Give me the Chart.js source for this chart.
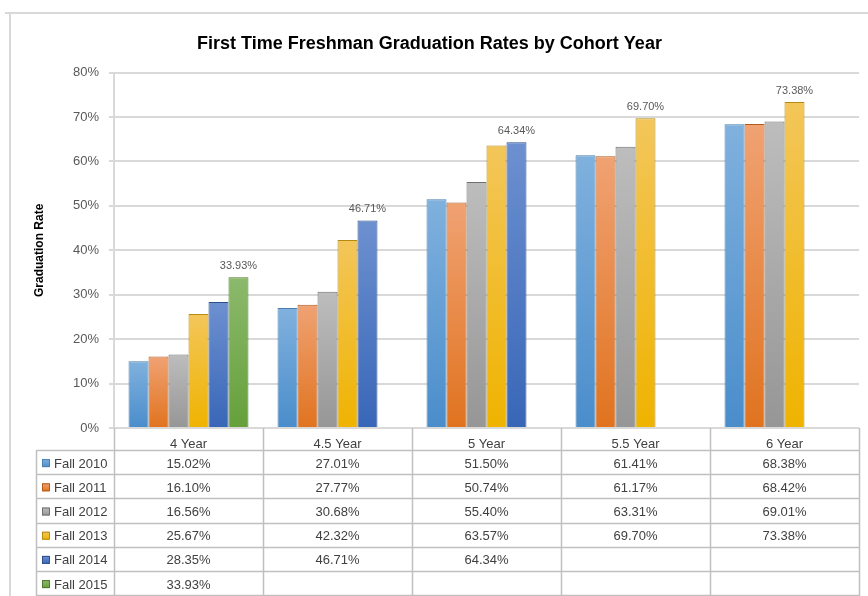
<!DOCTYPE html>
<html>
<head>
<meta charset="utf-8">
<script src="https://cdn.jsdelivr.net/npm/chart.js@4"></script>
<style>
  html, body { margin: 0; padding: 0; background: #fff; }
  #wrap { width: 868px; height: 596px; position: relative; }
</style>
</head>
<body>
<div id="wrap"><canvas id="gradChart" width="868" height="596"></canvas></div>
<script>
// data
const categories = ['4 Year', '4.5 Year', '5 Year', '5.5 Year', '6 Year'];
const cohorts = ['Fall 2010', 'Fall 2011', 'Fall 2012', 'Fall 2013', 'Fall 2014', 'Fall 2015'];
const fall2010 = [15.02, 27.01, 51.50, 61.41, 68.38];
const fall2011 = [16.10, 27.77, 50.74, 61.17, 68.42];
const fall2012 = [16.56, 30.68, 55.40, 63.31, 69.01];
const fall2013 = [25.67, 42.32, 63.57, 69.70, 73.38];
const fall2014 = [28.35, 46.71, 64.34, null, null];
const fall2015 = [33.93, null, null, null, null];
const yTicks = [0, 10, 20, 30, 40, 50, 60, 70, 80];

const seriesValues = [fall2010, fall2011, fall2012, fall2013, fall2014, fall2015];
// top colour, bottom colour, outline
const palette = [
    ['#80b1de', '#4a8dcb', '#4a7fb0'],
    ['#f0a273', '#e0731f', '#b05a1c'],
    ['#bdbdbd', '#969696', '#6f6f6f'],
    ['#f3c65a', '#efb300', '#b48a10'],
    ['#6d90d0', '#3866b7', '#2d4f8c'],
    ['#8cb96c', '#65a03b', '#4c7a2d']
];

const FONT = 'Liberation Sans, Arial, sans-serif';

function barGradient(i) {
    return function (context) {
        const chart = context.chart;
        if (!chart.chartArea || context.parsed == null || context.parsed.y == null) {
            return palette[i][1];
        }
        const yScale = chart.scales.y;
        const top = yScale.getPixelForValue(context.parsed.y);
        const bottom = yScale.getPixelForValue(0);
        const g = chart.ctx.createLinearGradient(0, top, 0, bottom);
        g.addColorStop(0, palette[i][0]);
        g.addColorStop(1, palette[i][1]);
        return g;
    };
}

const datasets = cohorts.map(function (name, i) {
    return {
        label: name,
        data: seriesValues[i],
        backgroundColor: barGradient(i),
        borderColor: palette[i][2],
        borderWidth: 1
    };
});

// frame, data table and the single value label on each group
const tablePlugin = {
    id: 'dataTable',
    beforeDraw: function (chart) {
        const ctx = chart.ctx;
        ctx.save();
        ctx.strokeStyle = '#d9d9d9';
        ctx.lineWidth = 2;
        ctx.beginPath();
        ctx.moveTo(5, 13);
        ctx.lineTo(868, 13);
        ctx.moveTo(10, 13);
        ctx.lineTo(10, 596);
        ctx.stroke();
        ctx.restore();
    },
    afterDraw: function (chart) {
        const ctx = chart.ctx;
        const area = chart.chartArea;
        const xScale = chart.scales.x;
        const rowTop = 450;
        const rowH = 24.2;
        const tableLeft = 36;
        const step = (area.right - area.left) / categories.length;

        ctx.save();
        ctx.strokeStyle = '#c0c0c0';
        ctx.lineWidth = 1.5;
        ctx.beginPath();
        for (let r = 0; r <= cohorts.length; r++) {
            const y = Math.round(rowTop + r * rowH) + 0.5;
            ctx.moveTo(tableLeft, y);
            ctx.lineTo(area.right, y);
        }
        ctx.moveTo(tableLeft + 0.5, rowTop);
        ctx.lineTo(tableLeft + 0.5, 596);
        for (let c = 0; c <= categories.length; c++) {
            const x = Math.round(area.left + c * step) + 0.5;
            ctx.moveTo(x, area.bottom);
            ctx.lineTo(x, 596);
        }
        ctx.stroke();

        ctx.font = '13px ' + FONT;
        ctx.textBaseline = 'middle';
        cohorts.forEach(function (name, r) {
            const cy = rowTop + r * rowH + rowH / 2 + 2;
            const g = ctx.createLinearGradient(0, cy - 5, 0, cy + 3);
            g.addColorStop(0, palette[r][0]);
            g.addColorStop(1, palette[r][1]);
            ctx.fillStyle = g;
            ctx.fillRect(42, cy - 5, 7, 8);
            ctx.strokeStyle = palette[r][2];
            ctx.lineWidth = 1;
            ctx.strokeRect(42.5, cy - 4.5, 7, 7);
            ctx.fillStyle = '#404040';
            ctx.textAlign = 'left';
            ctx.fillText(name, 54, cy);
            ctx.textAlign = 'center';
            seriesValues[r].forEach(function (v, c) {
                if (v === null) return;
                ctx.fillText(v.toFixed(2) + '%', xScale.getPixelForValue(c), cy);
            });
        });

        // label on the last bar of each group
        ctx.font = '11px ' + FONT;
        ctx.fillStyle = '#595959';
        ctx.textAlign = 'center';
        ctx.textBaseline = 'bottom';
        categories.forEach(function (cat, c) {
            let last = -1;
            seriesValues.forEach(function (vals, i) {
                if (vals[c] !== null && vals[c] !== undefined) last = i;
            });
            if (last < 0) return;
            const el = chart.getDatasetMeta(last).data[c];
            ctx.fillText(seriesValues[last][c].toFixed(2) + '%', el.x, el.y - 6);
        });
        ctx.restore();
    }
};

new Chart(document.getElementById('gradChart').getContext('2d'), {
    type: 'bar',
    data: {
        labels: categories,
        datasets: datasets
    },
    options: {
        responsive: false,
        animation: false,
        layout: {
            padding: { left: 0, right: 9, top: 0, bottom: 0 }
        },
        datasets: {
            bar: {
                categoryPercentage: 0.805,
                barPercentage: 1.0
            }
        },
        scales: {
            x: {
                grid: { display: false },
                border: { display: false },
                ticks: {
                    color: '#404040',
                    font: { family: FONT, size: 13 },
                    padding: 1,
                    maxRotation: 0
                },
                afterFit: function (scale) {
                    scale.height = 168;
                }
            },
            y: {
                min: 0,
                max: 80,
                afterBuildTicks: function (scale) {
                    scale.ticks = yTicks.map(function (v) { return { value: v }; });
                },
                grid: {
                    color: '#d9d9d9',
                    lineWidth: 2,
                    tickLength: 5
                },
                border: { display: true, color: '#d9d9d9', width: 2 },
                ticks: {
                    color: '#595959',
                    font: { family: FONT, size: 13 },
                    padding: 10,
                    callback: function (v) { return v + '%'; }
                },
                title: {
                    display: true,
                    text: 'Graduation Rate',
                    color: '#000',
                    font: { family: FONT, size: 12, weight: 'bold' },
                    padding: { top: 32, bottom: 0 }
                },
                afterFit: function (scale) {
                    scale.width = 114;
                }
            }
        },
        plugins: {
            legend: { display: false },
            tooltip: { enabled: false },
            title: {
                display: true,
                text: 'First Time Freshman Graduation Rates by Cohort Year',
                color: '#000',
                font: { family: FONT, size: 18, weight: 'bold' },
                padding: { top: 33, bottom: 18 }
            }
        }
    },
    plugins: [tablePlugin]
});
</script>
</body>
</html>
